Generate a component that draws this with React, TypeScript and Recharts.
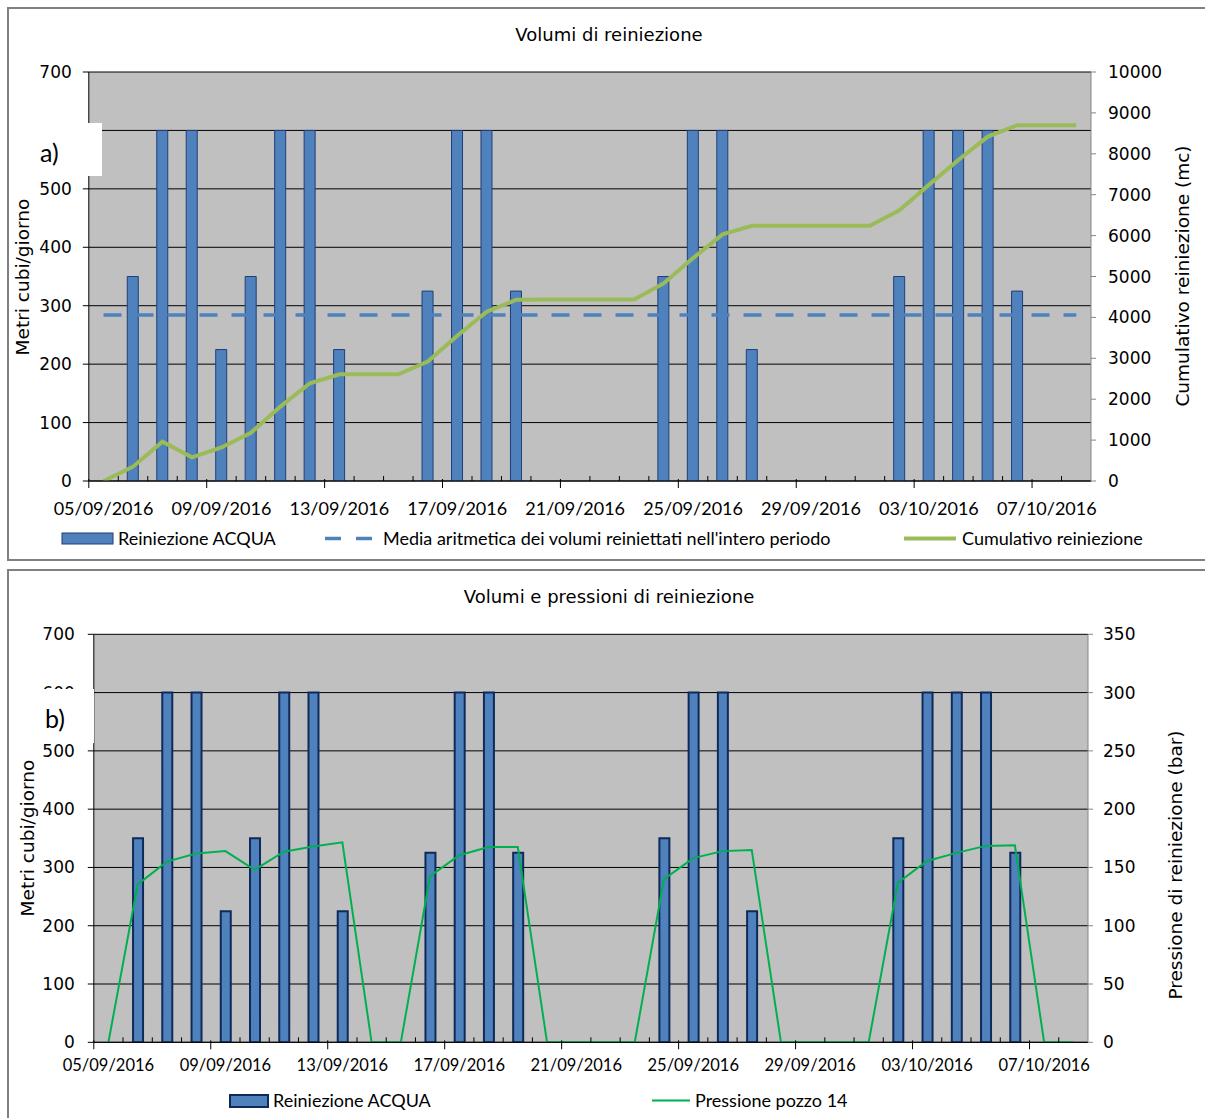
import { Bar, CartesianGrid, ComposedChart, Line, XAxis, YAxis } from "recharts"

// giorni del periodo di reiniezione
const DATES = [
  "05/09/2016", "06/09/2016", "07/09/2016", "08/09/2016", "09/09/2016", "10/09/2016",
  "11/09/2016", "12/09/2016", "13/09/2016", "14/09/2016", "15/09/2016", "16/09/2016",
  "17/09/2016", "18/09/2016", "19/09/2016", "20/09/2016", "21/09/2016", "22/09/2016",
  "23/09/2016", "24/09/2016", "25/09/2016", "26/09/2016", "27/09/2016", "28/09/2016",
  "29/09/2016", "30/09/2016", "01/10/2016", "02/10/2016", "03/10/2016", "04/10/2016",
  "05/10/2016", "06/10/2016", "07/10/2016", "08/10/2016",
]

// mc/giorno (0 = nessuna reiniezione)
const ACQUA = [
  0, 350, 600, 600, 225, 350, 600, 600, 225, 0, 0, 325, 600, 600, 325, 0, 0,
  0, 0, 350, 600, 600, 225, 0, 0, 0, 0, 350, 600, 600, 600, 325, 0, 0,
]

// cumulativo (mc), asse destro grafico a)
const CUMULATIVO = [
  0, 350, 960, 580, 820, 1180, 1820, 2390, 2610, 2610, 2610, 2920, 3550, 4140, 4430, 4440, 4440,
  4440, 4440, 4830, 5450, 6030, 6240, 6240, 6240, 6240, 6240, 6620, 7240, 7850, 8420, 8700, 8700, 8700,
]

const MEDIA = 284

// pressione pozzo 14 (bar), asse destro grafico b)
const PRESSIONE = [
  0, 135.5, 155, 162, 164, 148, 163.5, 168, 171.5, 0, 0, 142.5, 160.5, 167.5, 167.5, 0, 0,
  0, 0, 140, 158, 164, 165, 0, 0, 0, 0, 137, 155.5, 162.5, 168.5, 169, 0, 0,
]

const VOL_TICKS = [0, 100, 200, 300, 400, 500, 600, 700]
const CUM_TICKS = [0, 1000, 2000, 3000, 4000, 5000, 6000, 7000, 8000, 9000, 10000]
const PRESS_TICKS = [0, 50, 100, 150, 200, 250, 300, 350]

const rows = DATES.map((d, i) => ({
  d,
  acqua: ACQUA[i] > 0 ? ACQUA[i] : null,
  cum: CUMULATIVO[i],
  media: MEDIA,
  press: PRESSIONE[i],
}))

const SANS = "'DejaVu Sans', 'Liberation Sans', Arial, sans-serif"
const CALIBRI = "Lato, 'Open Sans', sans-serif"
const BLUE = "#4F81BD"

const numTick = { fill: "#000", fontSize: 17, fontFamily: SANS }

// tacche giornaliere sul bordo sinistro di ogni giorno, etichetta ogni 4 giorni
function DayTick(props: any) {
  const { x, y, index, payload, bw, size, gap } = props
  const left = x - bw / 2
  const major = index % 4 === 0
  return (
    <g>
      {major
        ? <line x1={left} x2={left} y1={y - 2} y2={y + 7} stroke="#000" />
        : <line x1={left} x2={left} y1={y - 5} y2={y} stroke="#000" />}
      {major && (
        <text x={x} y={y + gap} textAnchor="middle" dominantBaseline="central" fill="#000"
          style={{ fontFamily: CALIBRI, fontSize: size }}>
          {payload.value}
        </text>
      )}
    </g>
  )
}

// etichetta asse sinistro; nel grafico a) il 600 sta sotto il riquadro bianco
function VolTick(props: any) {
  const { x, y, payload, hidden } = props
  if (payload.value === hidden) return null
  return (
    <text x={x} y={y} dy="0.355em" textAnchor="end" fill="#000" style={{ fontSize: 17, fontFamily: SANS }}>
      {payload.value}
    </text>
  )
}

function AxisTitle({ text, cx, cy }: { text: string; cx: number; cy: number }) {
  return (
    <div style={{
      position: "absolute", left: cx - 200, top: cy - 12, width: 400, height: 24,
      textAlign: "center", lineHeight: "24px", transform: "rotate(-90deg)",
      fontFamily: SANS, fontSize: 18.5, color: "#000", whiteSpace: "nowrap",
    }}>{text}</div>
  )
}

function Title({ text, cy }: { text: string; cy: number }) {
  return (
    <div style={{
      position: "absolute", left: 0, width: 1218, top: cy - 12, height: 24, lineHeight: "24px",
      textAlign: "center", fontFamily: SANS, fontSize: 18, color: "#000",
    }}>{text}</div>
  )
}

function LegendText({ x, cy, text }: { x: number; cy: number; text: string }) {
  return (
    <div style={{
      position: "absolute", left: x, top: cy - 12, height: 24, lineHeight: "24px",
      fontFamily: CALIBRI, fontSize: 18, color: "#000", whiteSpace: "nowrap",
    }}>{text}</div>
  )
}

function Tag({ label, left, top, right, bottom, tx, ty }: any) {
  return (
    <div style={{ position: "absolute", left, top, width: right - left, height: bottom - top, background: "#fff" }}>
      <div style={{
        position: "absolute", left: tx - left, top: ty - top - 16, height: 32, lineHeight: "32px",
        fontFamily: CALIBRI, fontSize: 25, color: "#000",
      }}>{label}</div>
    </div>
  )
}

const BW_A = (1091 - 88.8) / DATES.length
const BW_B = (1088 - 93.8) / DATES.length

export default function App() {
  return (
    <div style={{ position: "absolute", left: 0, top: 0, width: 1205, height: 1118, background: "#fff", overflow: "hidden" }}>
      {/* riquadri */}
      <div style={{ position: "absolute", left: 7, top: 7, width: 1220, height: 554, border: "2px solid #808080", boxSizing: "border-box" }} />
      <div style={{ position: "absolute", left: 7, top: 569, width: 1220, height: 560, border: "2px solid #808080", boxSizing: "border-box" }} />

      {/* a) Volumi di reiniezione */}
      <div style={{ position: "absolute", left: 0, top: 0 }}>
        <ComposedChart width={1205} height={560} data={rows}
          margin={{ top: 72, right: 34, bottom: 39, left: 28.8 }}>
          <CartesianGrid yAxisId="vol" vertical={false} stroke="#000" fill="#C0C0C0" fillOpacity={1} />
          <XAxis dataKey="d" interval={0} height={40} tickLine={false} tickSize={0} tickMargin={0}
            axisLine={{ stroke: "#000" }} tick={(p: any) => <DayTick {...p} bw={BW_A} size={18} gap={27} />} />
          <YAxis yAxisId="vol" domain={[0, 700]} ticks={VOL_TICKS} interval={0} width={60}
            axisLine={{ stroke: "#000" }} tickLine={{ stroke: "#000" }} tickSize={6} tickMargin={11}
            tick={(p: any) => <VolTick {...p} hidden={600} />} allowDataOverflow />
          <YAxis yAxisId="cum" orientation="right" domain={[0, 10000]} ticks={CUM_TICKS} interval={0} width={80}
            axisLine={{ stroke: "#868686" }} tickLine={{ stroke: "#868686" }} tickSize={5} tickMargin={12}
            tick={numTick} allowDataOverflow />
          <Bar yAxisId="vol" dataKey="acqua" fill={BLUE} stroke="#1F3F77" strokeWidth={1} barSize={11}
            isAnimationActive={false} />
          <Line yAxisId="vol" dataKey="media" type="linear" stroke={BLUE} strokeWidth={3.5}
            strokeDasharray="18 14" dot={false} activeDot={false} isAnimationActive={false} />
          <Line yAxisId="cum" dataKey="cum" type="linear" stroke="#9BBB59" strokeWidth={4}
            dot={false} activeDot={false} isAnimationActive={false} />
        </ComposedChart>
      </div>

      <Title text="Volumi di reiniezione" cy={35} />
      <AxisTitle text="Metri cubi/giorno" cx={23} cy={277} />
      <AxisTitle text="Cumulativo reiniezione (mc)" cx={1183} cy={276} />
      <Tag label="a)" left={30} top={123} right={102} bottom={176} tx={40} ty={152} />

      <svg style={{ position: "absolute", left: 0, top: 0 }} width={1205} height={1118} pointerEvents="none">
        <rect x={62} y={533} width={51} height={11} fill={BLUE} stroke="#1F3F77" strokeWidth={1} />
        <line x1={325} x2={375} y1={538.5} y2={538.5} stroke={BLUE} strokeWidth={3.5} strokeDasharray="16 15" />
        <line x1={904} x2={956} y1={538.5} y2={538.5} stroke="#9BBB59" strokeWidth={4} />
        <rect x={230} y={1095} width={38} height={12} fill={BLUE} stroke="#0F2A5A" strokeWidth={2} />
        <line x1={652} x2={690} y1={1100.5} y2={1100.5} stroke="#00B050" strokeWidth={2} />
      </svg>
      <LegendText x={118} cy={538} text="Reiniezione ACQUA" />
      <LegendText x={383} cy={538} text="Media aritmetica dei volumi reiniettati nell'intero periodo" />
      <LegendText x={962} cy={538} text="Cumulativo reiniezione" />

      {/* b) Volumi e pressioni di reiniezione */}
      <div style={{ position: "absolute", left: 0, top: 560 }}>
        <ComposedChart width={1205} height={558} data={rows}
          margin={{ top: 74.3, right: 37, bottom: 35.7, left: 33.8 }}>
          <CartesianGrid yAxisId="vol" vertical={false} stroke="#000" fill="#C0C0C0" fillOpacity={1} />
          <XAxis dataKey="d" interval={0} height={40} tickLine={false} tickSize={0} tickMargin={0}
            axisLine={{ stroke: "#000" }} tick={(p: any) => <DayTick {...p} bw={BW_B} size={16.5} gap={23} />} />
          <YAxis yAxisId="vol" domain={[0, 700]} ticks={VOL_TICKS} interval={0} width={60}
            axisLine={{ stroke: "#000" }} tickLine={{ stroke: "#000" }} tickSize={6} tickMargin={13}
            tick={numTick} allowDataOverflow />
          <YAxis yAxisId="press" orientation="right" domain={[0, 350]} ticks={PRESS_TICKS} interval={0} width={80}
            axisLine={{ stroke: "#868686" }} tickLine={{ stroke: "#868686" }} tickSize={5} tickMargin={10}
            tick={numTick} allowDataOverflow />
          <Bar yAxisId="vol" dataKey="acqua" fill={BLUE} stroke="#0F2A5A" strokeWidth={2} barSize={10}
            isAnimationActive={false} />
          <Line yAxisId="press" dataKey="press" type="linear" stroke="#00B050" strokeWidth={2}
            dot={false} activeDot={false} isAnimationActive={false} />
        </ComposedChart>
      </div>

      <Title text="Volumi e pressioni di reiniezione" cy={597} />
      <AxisTitle text="Metri cubi/giorno" cx={28} cy={838} />
      <AxisTitle text="Pressione di reiniezione (bar)" cx={1176} cy={865} />
      <Tag label="b)" left={30} top={689} right={94} bottom={743} tx={45} ty={718} />

      <LegendText x={273} cy={1100} text="Reiniezione ACQUA" />
      <LegendText x={695} cy={1100} text="Pressione pozzo 14" />
    </div>
  )
}
